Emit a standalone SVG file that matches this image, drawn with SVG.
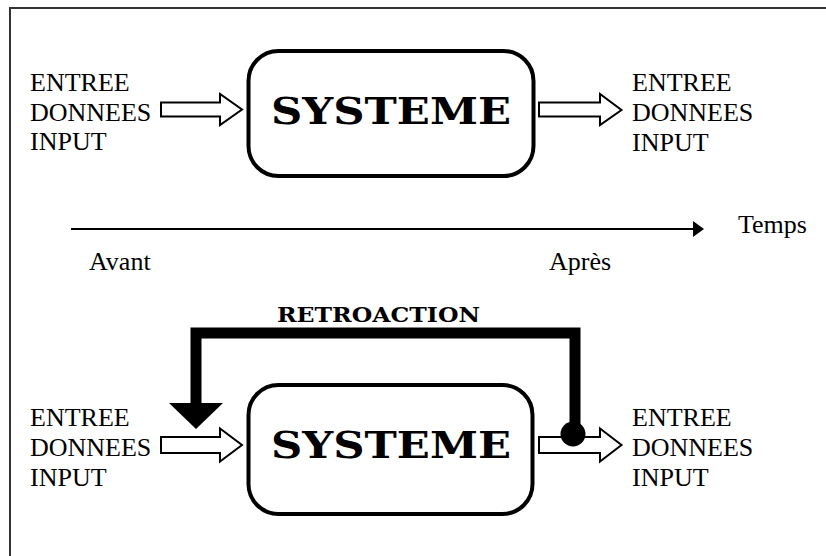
<svg xmlns="http://www.w3.org/2000/svg" width="826" height="556" viewBox="0 0 826 556">
<style>
.lbl{font-family:'Liberation Serif','Times New Roman',serif;font-size:26px;fill:#000}
.sys{font-family:'DejaVu Serif',serif;font-weight:bold;font-size:37px;fill:#000}
.ret{font-family:'DejaVu Serif',serif;font-weight:bold;font-size:20px;fill:#000}
.box{fill:#fff;stroke:#000;stroke-width:4}
.barrow{fill:#fff;stroke:#000;stroke-width:2;stroke-linejoin:miter}
</style>
<rect x="10" y="8" width="840" height="580" fill="#fff" stroke="#333" stroke-width="2"/>

<g id="top-system">
<rect class="box" x="248.5" y="51" width="285" height="125" rx="30"/>
<text class="sys" x="271" y="124" textLength="240" lengthAdjust="spacingAndGlyphs">SYSTEME</text>
</g>
<g id="top-input-label" font-family="Liberation Serif">
<text class="lbl" x="30" y="91">ENTREE</text>
<text class="lbl" x="30" y="121">DONNEES</text>
<text class="lbl" x="30" y="150">INPUT</text>
</g>
<g id="top-output-label">
<text class="lbl" x="632" y="91">ENTREE</text>
<text class="lbl" x="632" y="121">DONNEES</text>
<text class="lbl" x="632" y="151">INPUT</text>
</g>

<g id="timeline">
<line x1="71" y1="229" x2="694" y2="229" stroke="#000" stroke-width="2"/>
<path d="M693,221 L704,229 L693,237 Z" fill="#000"/>
<text class="lbl" x="738" y="233">Temps</text>
<text class="lbl" x="89" y="270">Avant</text>
<text class="lbl" x="549" y="270">Après</text>
</g>

<g id="bottom-system">
<rect class="box" x="248.5" y="385" width="284" height="129" rx="30"/>
<text class="sys" x="271" y="458" textLength="240" lengthAdjust="spacingAndGlyphs">SYSTEME</text>
</g>
<g id="bottom-input-label">
<text class="lbl" x="30" y="426">ENTREE</text>
<text class="lbl" x="30" y="456">DONNEES</text>
<text class="lbl" x="30" y="486">INPUT</text>
</g>
<g id="bottom-output-label">
<text class="lbl" x="632" y="426">ENTREE</text>
<text class="lbl" x="632" y="456">DONNEES</text>
<text class="lbl" x="632" y="486">INPUT</text>
</g>

<g id="connectors">
<path d="M161,102.5 H220 V94 L242,109.5 L220,125 V116.5 H161 Z" class="barrow"/>
<path d="M539,102.5 H600 V94 L621.5,110 L600,125 V116.5 H539 Z" class="barrow"/>
<path d="M161,437 H220 V428.5 L242,445 L220,461.5 V453 H161 Z" class="barrow"/>
<path d="M539,437 H600 V428.5 L621.5,445 L600,461.5 V453 H539 Z" class="barrow"/>
<g id="feedback">
<path d="M575,434 V333 H196 V404" fill="none" stroke="#000" stroke-width="11" stroke-linejoin="miter"/>
<path d="M169,403 H223 L196,429 Z" fill="#000"/>
<circle cx="573" cy="434" r="12.5" fill="#000"/>
<text class="ret" x="277" y="322" textLength="203" lengthAdjust="spacingAndGlyphs">RETROACTION</text>
</g>
</g>
</svg>
